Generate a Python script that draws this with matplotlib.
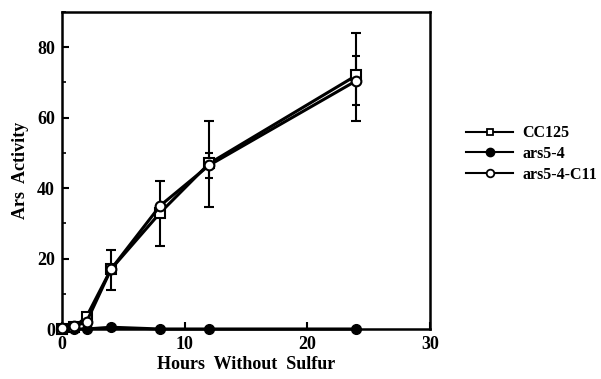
import matplotlib.pyplot as plt
from matplotlib.lines import Line2D
from matplotlib.ticker import MultipleLocator

plt.rcParams['font.family'] = 'Liberation Serif'
plt.rcParams['font.weight'] = 'bold'

# Data
hours = [0, 1, 2, 4, 8, 12, 24]
cc125 = [0, 0.5, 3.5, 17, 33, 47, 72]
cc125_err_lo = [0, 0, 0, 6, 9.5, 12.5, 13]
cc125_err_hi = [0, 0, 0, 5.5, 9, 12, 12]
ars54 = [0, 0, 0, 0.5, 0, 0, 0]
c11 = [0.3, 0.8, 2, 17, 35, 46.5, 70.5]
c11_err = [0, 0, 0, 0, 0, 3.5, 7]

fig = plt.figure(figsize=(6.01, 3.79), dpi=100)
ax = fig.add_axes([62 / 601, 50 / 379, 368 / 601, 317 / 379])

ax.errorbar(hours, cc125, yerr=[cc125_err_lo, cc125_err_hi], fmt='none',
            ecolor='black', elinewidth=1.5, capsize=3.5, capthick=1.5, zorder=2)
ax.errorbar(hours, c11, yerr=c11_err, fmt='none',
            ecolor='black', elinewidth=1.5, capsize=3, capthick=1.5, zorder=2)

ax.plot(hours, ars54, color='black', lw=2.2, marker='o', ms=7,
        mfc='black', mec='black', zorder=3, clip_on=False)
ax.plot(hours, cc125, color='black', lw=2.2, marker='s', ms=7,
        mfc='white', mec='black', mew=1.5, zorder=4, clip_on=False)
ax.plot(hours, c11, color='black', lw=2.2, marker='o', ms=7,
        mfc='white', mec='black', mew=1.5, zorder=5, clip_on=False)

ax.set_xlim(0, 30)
ax.set_ylim(0, 90)
ax.xaxis.set_major_locator(MultipleLocator(10))
ax.yaxis.set_major_locator(MultipleLocator(20))
ax.yaxis.set_minor_locator(MultipleLocator(10))
ax.tick_params(direction='in', length=5, width=1.5, labelsize=13, pad=5)
ax.tick_params(which='minor', direction='in', length=3, width=1.2)
for lab in ax.get_xticklabels() + ax.get_yticklabels():
    lab.set_fontweight('bold')
for s in ax.spines.values():
    s.set_linewidth(1.8)

ax.set_xlabel('Hours  Without  Sulfur', fontsize=13, fontweight='bold', labelpad=2)
ax.set_ylabel('Ars  Activity', fontsize=13, fontweight='bold', labelpad=6)

handles = [
    Line2D([], [], color='black', lw=1.5, marker='s', ms=5, mfc='white', mec='black', mew=1.3),
    Line2D([], [], color='black', lw=1.5, marker='o', ms=6, mfc='black', mec='black'),
    Line2D([], [], color='black', lw=1.5, marker='o', ms=5.5, mfc='white', mec='black', mew=1.3),
]
labels = ['CC125', 'ars5-4', 'ars5-4-C11']
ax.legend(handles, labels, loc='center left', bbox_to_anchor=(1.06, 0.552),
          frameon=False, handlelength=2.9, handletextpad=0.6, labelspacing=0.3,
          prop={'weight': 'bold', 'size': 11.5})

fig.savefig('out.png', dpi=100)
